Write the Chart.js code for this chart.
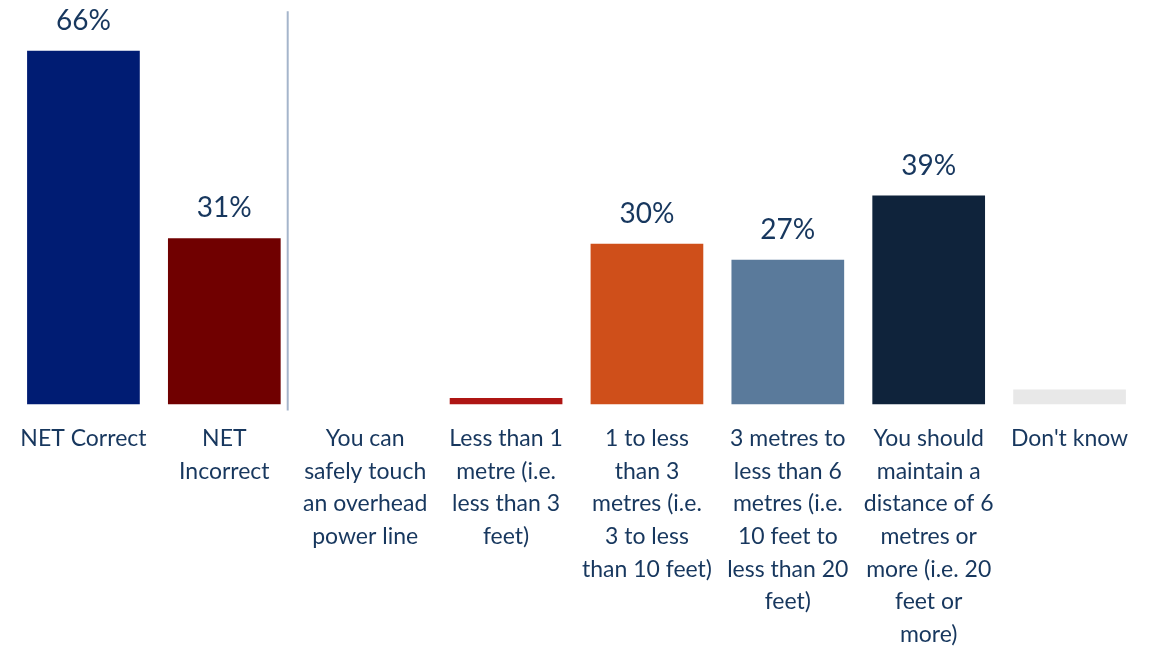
<!DOCTYPE html>
<html>
<head>
<meta charset="utf-8">
<script src="https://cdn.jsdelivr.net/npm/chart.js@4"></script>
<style>
  html, body { margin: 0; padding: 0; background: #fff; overflow: hidden; }
  #wrap { width: 1157px; height: 661px; position: relative; }
</style>
</head>
<body>
<div id="wrap"><canvas id="myChart"></canvas></div>
<script>
// Datos del gráfico
const categorias = [
  ['NET Correct'],
  ['NET', 'Incorrect'],
  ['You can', 'safely touch', 'an overhead', 'power line'],
  ['Less than 1', 'metre (i.e.', 'less than 3', 'feet)'],
  ['1 to less', 'than 3', 'metres (i.e.', '3 to less', 'than 10 feet)'],
  ['3 metres to', 'less than 6', 'metres (i.e.', '10 feet to', 'less than 20', 'feet)'],
  ['You should', 'maintain a', 'distance of 6', 'metres or', 'more (i.e. 20', 'feet or', 'more)'],
  ["Don't know"]
];
const valores = [66, 31, 0, 1.2, 30, 27, 39, 2.8];
const etiquetas = ['66%', '31%', '', '', '30%', '27%', '39%', ''];
const colores = ['#001C73', '#700000', '#FFFFFF', '#AE1513', '#CF4F1A', '#5A7A9B', '#0F233B', '#E8E8E8'];

const colorTexto = '#17375E';
const chart = document.getElementById('myChart');

// Etiquetas de valor encima de las barras
const etiquetasPlugin = {
  id: 'etiquetas',
  afterDatasetsDraw(c) {
    const ctx = c.ctx;
    const meta = c.getDatasetMeta(0);
    ctx.save();
    ctx.fillStyle = colorTexto;
    ctx.font = '28px Lato';
    ctx.textAlign = 'center';
    ctx.textBaseline = 'middle';
    meta.data.forEach((bar, i) => {
      if (etiquetas[i]) ctx.fillText(etiquetas[i], bar.x, bar.y - 30);
    });
    ctx.restore();
  }
};

// Línea separadora entre NET y el resto
const separadorPlugin = {
  id: 'separador',
  afterDraw(c) {
    const x = c.scales.x.getPixelForValue(1.45);
    const ctx = c.ctx;
    ctx.save();
    ctx.strokeStyle = '#A5B5CB';
    ctx.lineWidth = 2;
    ctx.beginPath();
    ctx.moveTo(x, c.scales.y.getPixelForValue(73.4));
    ctx.lineTo(x, c.chartArea.bottom + 6);
    ctx.stroke();
    ctx.restore();
  }
};

new Chart(chart, {
  type: 'bar',
  data: {
    labels: categorias,
    datasets: [{
      data: valores,
      backgroundColor: colores,
      barPercentage: 0.8,
      categoryPercentage: 1.0
    }]
  },
  options: {
    responsive: true,
    maintainAspectRatio: false,
    animation: false,
    layout: { padding: { left: 13, right: 17, top: 8, bottom: 0 } },
    plugins: { legend: { display: false }, tooltip: { enabled: false } },
    scales: {
      y: { display: false, min: 0, max: 74 },
      x: {
        grid: { display: false },
        border: { display: false },
        ticks: {
          color: colorTexto,
          font: { family: 'Lato', size: 23, lineHeight: 1.42 },
          padding: 10,
          maxRotation: 0,
          autoSkip: false
        }
      }
    }
  },
  plugins: [etiquetasPlugin, separadorPlugin]
});
</script>
</body>
</html>
